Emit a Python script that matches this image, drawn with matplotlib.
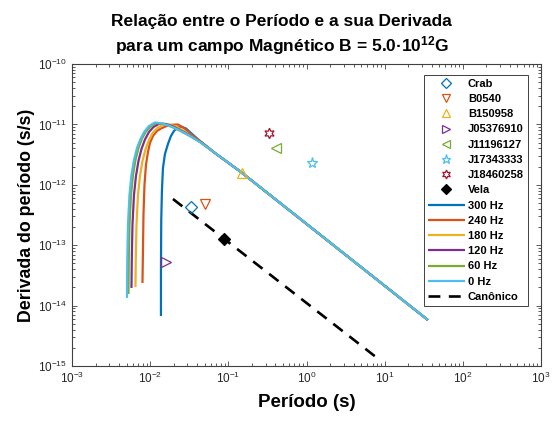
import matplotlib
matplotlib.use('Agg')
import matplotlib.pyplot as plt
from matplotlib.ticker import FixedLocator, LogLocator, NullFormatter

plt.rcParams['font.family'] = ['Liberation Sans', 'DejaVu Sans']
plt.rcParams['mathtext.fontset'] = 'custom'
plt.rcParams['mathtext.rm'] = 'Liberation Sans'
plt.rcParams['mathtext.bf'] = 'Liberation Sans:bold'

# observed pulsars: period (s) and period derivative (s/s)
PULSAR_NAMES = ['Crab', 'B0540', 'B150958', 'J05376910', 'J11196127',
                'J17343333', 'J18460258', 'Vela']
PULSAR_P = [0.0335, 0.0504, 0.151, 0.0161, 0.408, 1.17, 0.327, 0.0893]
PULSAR_PDOT = [4.21e-13, 4.79e-13, 1.54e-12, 5.18e-14, 4.02e-12,
               2.28e-12, 7.1e-12, 1.25e-13]

# evolution tracks, one per frequency; all end on the same tail
TRACK_LABELS = ['300 Hz', '240 Hz', '180 Hz', '120 Hz', '60 Hz', '0 Hz']

P_300 = [1.3742e-2, 1.3742e-2, 1.386e-2, 1.4152e-2, 1.4575e-2, 1.5459e-2,
         1.6887e-2, 1.8446e-2, 2.015e-2, 2.2011e-2, 2.4762e-2, 2.869e-2,
         3.324e-2, 4.333e-2]
PDOT_300 = [6.73e-15, 3.88e-14, 2.611e-13, 8.194e-13, 1.897e-12, 3.235e-12,
            4.736e-12, 6.426e-12, 7.775e-12, 8.717e-12, 9.230e-12, 8.553e-12,
            7.204e-12, 5.310e-12]

P_240 = [7.970e-3, 8.089e-3, 8.209e-3, 8.454e-3, 8.836e-3, 9.372e-3,
         9.940e-3, 1.0858e-2, 1.2215e-2, 1.3742e-2, 1.5921e-2, 1.8998e-2,
         2.2668e-2, 2.705e-2, 3.227e-2, 4.333e-2]
PDOT_240 = [2.37e-14, 8.32e-14, 3.159e-13, 9.917e-13, 2.127e-12, 3.491e-12,
            4.921e-12, 6.426e-12, 7.775e-12, 8.553e-12, 9.302e-12, 9.847e-12,
            9.962e-12, 8.717e-12, 7.068e-12, 5.310e-12]

P_180 = [6.486e-3, 6.544e-3, 6.680e-3, 6.981e-3, 7.405e-3, 7.970e-3,
         8.706e-3, 9.652e-3, 1.0858e-2, 1.258e-2, 1.5011e-2, 1.7911e-2,
         2.2011e-2, 2.705e-2, 3.423e-2, 4.333e-2]
PDOT_180 = [2.03e-14, 5.68e-14, 2.158e-13, 6.771e-13, 1.398e-12, 2.477e-12,
            3.840e-12, 5.517e-12, 7.343e-12, 8.885e-12, 9.962e-12, 9.962e-12,
            9.056e-12, 7.775e-12, 6.304e-12, 5.210e-12]

P_120 = [5.765e-3, 5.817e-3, 5.938e-3, 6.206e-3, 6.582e-3, 7.085e-3,
         7.739e-3, 8.579e-3, 9.652e-3, 1.1019e-2, 1.2956e-2, 1.5459e-2,
         1.8998e-2, 2.4043e-2, 3.227e-2, 4.333e-2]
PDOT_120 = [1.96e-14, 5.68e-14, 2.158e-13, 6.771e-13, 1.398e-12, 2.477e-12,
            3.914e-12, 5.623e-12, 7.484e-12, 9.056e-12, 1.0229e-11, 1.0229e-11,
            9.408e-12, 8.077e-12, 6.549e-12, 5.210e-12]

P_60 = [5.278e-3, 5.325e-3, 5.436e-3, 5.681e-3, 6.026e-3, 6.486e-3,
        7.085e-3, 7.854e-3, 8.836e-3, 1.0088e-2, 1.2037e-2, 1.4575e-2,
        1.8446e-2, 2.4043e-2, 3.227e-2, 4.333e-2]
PDOT_60 = [1.556e-14, 5.68e-14, 2.158e-13, 6.771e-13, 1.453e-12, 2.573e-12,
           4.066e-12, 5.841e-12, 7.628e-12, 9.230e-12, 1.0548e-11, 1.0229e-11,
           9.230e-12, 7.864e-12, 6.426e-12, 5.111e-12]

P_0 = [5.050e-3, 5.095e-3, 5.201e-3, 5.436e-3, 5.765e-3, 6.206e-3,
       6.779e-3, 7.515e-3, 8.454e-3, 9.652e-3, 1.1516e-2, 1.4152e-2,
       1.7911e-2, 2.4043e-2, 3.227e-2, 4.333e-2]
PDOT_0 = [1.34e-14, 5.68e-14, 2.158e-13, 6.771e-13, 1.453e-12, 2.573e-12,
          4.066e-12, 5.731e-12, 7.628e-12, 9.408e-12, 1.0751e-11, 1.0349e-11,
          9.408e-12, 7.925e-12, 6.426e-12, 5.111e-12]

TAIL_P = [6.738e-2, 0.1449, 35.68]
TAIL_PDOT = [3.36e-12, 1.629e-12, 5.78e-15]

# canonical spin-down line for B = 5.0e12 G
CANON_P = [1.957e-2, 7.72]
CANON_PDOT = [5.82e-13, 1.41e-15]

# decade ticks shown on each axis
X_TICKS = [1e-3, 1e-2, 1e-1, 1e0, 1e1, 1e2, 1e3]
Y_TICKS = [1e-15, 1e-14, 1e-13, 1e-12, 1e-11, 1e-10]

MARKERS = ['D', 'v', '^', '>', '<', '*', (6, 1, 0), 'D']
MARKER_COLORS = ['#0072BD', '#D95319', '#EDB120', '#7E2F8E', '#77AC30',
                 '#4DBEEE', '#A2142F', 'black']
MARKER_SIZES = [6, 7.5, 7.5, 7.5, 7.5, 8, 7.5, 6]
TRACK_COLORS = ['#0072BD', '#D95319', '#EDB120', '#7E2F8E', '#77AC30',
                '#4DBEEE']

fig = plt.figure(figsize=(5.57, 4.21), dpi=100)
ax = fig.add_axes([72 / 557, 55 / 421, 469 / 557, 302 / 421])

for i, name in enumerate(PULSAR_NAMES):
    filled = name == 'Vela'
    ax.plot(PULSAR_P[i], PULSAR_PDOT[i], linestyle='none',
            marker=MARKERS[i], markersize=MARKER_SIZES[i],
            markeredgecolor=MARKER_COLORS[i], markeredgewidth=0.9,
            markerfacecolor=MARKER_COLORS[i] if filled else 'none',
            label=name, zorder=3)

tracks = [(P_300, PDOT_300), (P_240, PDOT_240), (P_180, PDOT_180),
          (P_120, PDOT_120), (P_60, PDOT_60), (P_0, PDOT_0)]
for (p, pdot), label, color in zip(tracks, TRACK_LABELS, TRACK_COLORS):
    ax.plot(p + TAIL_P, pdot + TAIL_PDOT, color=color, linewidth=1.6,
            label=label, solid_capstyle='butt', zorder=2)

ax.plot(CANON_P, CANON_PDOT, color='black', linewidth=1.9,
        linestyle=(0, (4.5, 3.2)), label='Canônico', zorder=2)

ax.set_xscale('log')
ax.set_yscale('log')
ax.set_xlim(1e-3, 1e3)
ax.set_ylim(1e-15, 1e-10)

# only the decades inside the limits get a label
ax.xaxis.set_major_locator(FixedLocator(X_TICKS))
ax.yaxis.set_major_locator(FixedLocator(Y_TICKS))
ax.xaxis.set_minor_locator(LogLocator(base=10, subs=range(2, 10), numticks=20))
ax.yaxis.set_minor_locator(LogLocator(base=10, subs=range(2, 10), numticks=20))
ax.xaxis.set_minor_formatter(NullFormatter())
ax.yaxis.set_minor_formatter(NullFormatter())

ax.tick_params(which='both', direction='in', top=True, right=True,
               color='#404040', labelsize=8.5, labelcolor='#262626', width=0.6)
ax.tick_params(which='major', length=3.5)
ax.tick_params(which='minor', length=2)
for spine in ax.spines.values():
    spine.set_color('#404040')
    spine.set_linewidth(0.8)

ax.set_xlabel('Período (s)', fontsize=13.5, fontweight='bold', labelpad=6)
ax.set_ylabel('Derivada do período (s/s)', fontsize=12.8, fontweight='bold',
              labelpad=2)

fig.text(0.505, 0.948, 'Relação entre o Período e a sua Derivada',
         ha='center', va='center', fontsize=12.5, fontweight='bold')
fig.text(0.507, 0.891,
         r'para um campo Magnético B = 5.0·$\mathbf{10^{12}}$G',
         ha='center', va='center', fontsize=12.5, fontweight='bold')

leg = ax.legend(loc='upper right', bbox_to_anchor=(0.972, 0.964),
                borderaxespad=0, fancybox=False, framealpha=1,
                edgecolor='#404040', handlelength=3.3, labelspacing=0.47,
                handletextpad=0.3, borderpad=0.35, markerscale=0.85,
                prop={'size': 8, 'weight': 'bold'})
leg.get_frame().set_linewidth(0.7)

fig.savefig('out.png', dpi=100)
